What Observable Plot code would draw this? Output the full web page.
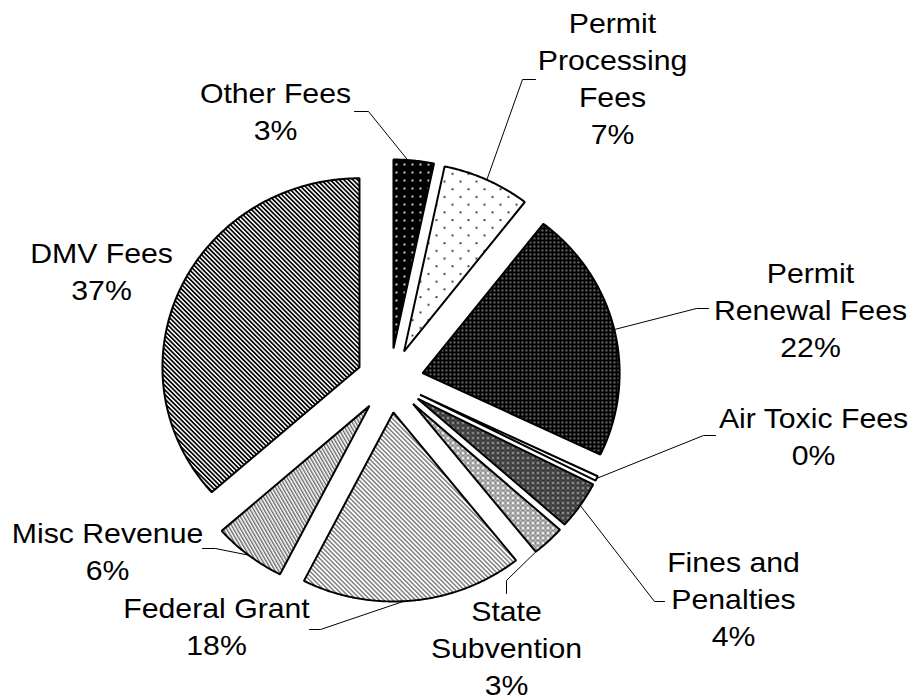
<!DOCTYPE html>
<html><head><meta charset="utf-8">
<script src="https://cdn.jsdelivr.net/npm/d3@7"></script>
<script src="https://cdn.jsdelivr.net/npm/@observablehq/plot@0.6"></script>
<style>body{margin:0;background:#fff}</style>
</head><body><div id="chart"></div>
<script>
// ---- data ----
const categories = ["Other Fees","Permit Processing Fees","Permit Renewal Fees","Air Toxic Fees","Fines and Penalties","State Subvention","Federal Grant","Misc Revenue","DMV Fees"];
const labelNames = ["Other Fees","Permit\nProcessing\nFees","Permit\nRenewal Fees","Air Toxic Fees","Fines and\nPenalties","State\nSubvention","Federal Grant","Misc Revenue","DMV Fees"];
const shares = [3.3, 7.2, 21.6, 0.4, 4.1, 2.7, 18.2, 6.0, 36.5];

// ---- layout ----
const W = 911, H = 698;
const CX = 389.5, CY = 380, RX = 197, RY = 189, EXPLODE = 0.17;
const labelPos = [[275,109.5],[612,76.5],[810,308],[813,434],[733,597],[506,646],[216,624.5],[107,549],[101,269]];
const leaderElbows = [[[354,111],[368,111]],[[535,79],[522,79]],[[708,308],[696,308]],[[715,435],[703,435]],[[664,601],[654,601]],[[506,593],[506,580]],[[309,629],[320,629]],[[202,548],[215,548]],null];
const leaderFrac = [0.35, 0.5, 0.5, 0.5, 0.5, 0.95, 0.54, 0.5, 0.5];
const patternIds = ["p-other","p-pp","p-pr","p-at","p-fines","p-ss","p-fg","p-mr","p-dmv"];

const total = d3.sum(shares);
const arcs = d3.pie().sort(null).value(d => d)(shares);

const slicePolys = arcs.map((a, i) => {
  const mid = (a.startAngle + a.endAngle) / 2;
  const ax = CX + EXPLODE * RX * Math.sin(mid);
  const ay = CY - EXPLODE * RY * Math.cos(mid);
  const pts = [{i, x: ax, y: ay}];
  const n = Math.max(2, Math.ceil((a.endAngle - a.startAngle) / 0.008));
  for (let k = 0; k <= n; k++) {
    const t = a.startAngle + (a.endAngle - a.startAngle) * k / n;
    pts.push({i, x: ax + RX * Math.sin(t), y: ay - RY * Math.cos(t)});
  }
  return pts;
});

const leaders = [];
arcs.forEach((a, i) => {
  if (!leaderElbows[i]) return;
  const mid = (a.startAngle + a.endAngle) / 2;
  const t = a.startAngle + (a.endAngle - a.startAngle) * leaderFrac[i];
  const ax = CX + EXPLODE * RX * Math.sin(mid);
  const ay = CY - EXPLODE * RY * Math.cos(mid);
  const ex = ax + RX * Math.sin(t);
  const ey = ay - RY * Math.cos(t);
  const [p0, p1] = leaderElbows[i];
  leaders.push({i, x: p0[0], y: p0[1]}, {i, x: p1[0], y: p1[1]}, {i, x: ex, y: ey});
});

const labels = categories.map((c, i) => ({
  text: labelNames[i] + "\n" + Math.round(shares[i] / total * 100) + "%",
  x: labelPos[i][0], y: labelPos[i][1]
}));

const svg = Plot.plot({
  width: W, height: H,
  margin: 0,
  x: {domain: [0, W], range: [0, W], axis: null},
  y: {domain: [0, H], range: [0, H], axis: null},
  style: {fontFamily: "'Liberation Sans', Arial, sans-serif", background: "#fff"},
  marks: [
    ...slicePolys.map((pts, i) => Plot.line(pts, {
      x: "x", y: "y", curve: "linear-closed",
      fill: `url(#${patternIds[i]})`, stroke: "#000", strokeWidth: 2, strokeLinejoin: "miter"
    })),
    Plot.line(leaders, {x: "x", y: "y", z: "i", stroke: "#000", strokeWidth: 1}),
    Plot.text(labels, {x: "x", y: "y", text: "text", fontSize: 28, lineHeight: 37/28,
      textAnchor: "middle", lineAnchor: "middle", fill: "#000"})
  ]
});

const defs = document.createElementNS("http://www.w3.org/2000/svg", "defs");
defs.innerHTML = `
<pattern id="p-other" width="8" height="8" patternUnits="userSpaceOnUse"><rect width="8" height="8" fill="#000"/><circle cx="4" cy="4" r="1.1" fill="#fff"/></pattern>
<pattern id="p-pp" width="16" height="15.4" patternUnits="userSpaceOnUse"><rect width="16" height="15.4" fill="#fff"/><circle cx="4" cy="4" r="1.1" fill="#333"/><circle cx="12" cy="11.7" r="1.1" fill="#333"/></pattern>
<pattern id="p-pr" width="4" height="4" patternUnits="userSpaceOnUse"><rect width="4" height="4" fill="#000"/><rect x="1.2" y="1.2" width="1.4" height="1.4" fill="#ddd"/></pattern>
<pattern id="p-at" width="4" height="4" patternUnits="userSpaceOnUse"><rect width="4" height="4" fill="#fff"/></pattern>
<pattern id="p-fines" width="5" height="5" patternUnits="userSpaceOnUse"><rect width="5" height="5" fill="#333"/><circle cx="2.5" cy="2.5" r="1.3" fill="#aaa"/><circle cx="0" cy="0" r="0.8" fill="#777"/><circle cx="5" cy="0" r="0.8" fill="#777"/><circle cx="0" cy="5" r="0.8" fill="#777"/><circle cx="5" cy="5" r="0.8" fill="#777"/></pattern>
<pattern id="p-ss" width="5" height="5" patternUnits="userSpaceOnUse"><rect width="5" height="5" fill="#888"/><circle cx="2.5" cy="2.5" r="1.5" fill="#fff"/><circle cx="0" cy="0" r="0.9" fill="#ddd"/><circle cx="5" cy="0" r="0.9" fill="#ddd"/><circle cx="0" cy="5" r="0.9" fill="#ddd"/><circle cx="5" cy="5" r="0.9" fill="#ddd"/></pattern>
<pattern id="p-fg" width="3.2" height="10" patternUnits="userSpaceOnUse" patternTransform="rotate(-45)"><rect width="3.2" height="10" fill="#fff"/><rect width="1.4" height="10" fill="#777"/></pattern>
<pattern id="p-mr" width="3" height="10" patternUnits="userSpaceOnUse" patternTransform="rotate(-30)"><rect width="3" height="10" fill="#fff"/><rect width="1.4" height="10" fill="#666"/></pattern>
<pattern id="p-dmv" width="3.2" height="10" patternUnits="userSpaceOnUse" patternTransform="rotate(-45)"><rect width="3.2" height="10" fill="#fff"/><rect width="1.7" height="10" fill="#000"/></pattern>`;
svg.insertBefore(defs, svg.firstChild);
// the reference's labels are set slightly wide: stretch each label horizontally about its anchor
svg.querySelectorAll("g[aria-label='text'] text").forEach(el => {
  el.setAttribute("transform", (el.getAttribute("transform") || "") + " scale(1.08,1)");
});
document.getElementById("chart").appendChild(svg);
</script>
</body></html>
